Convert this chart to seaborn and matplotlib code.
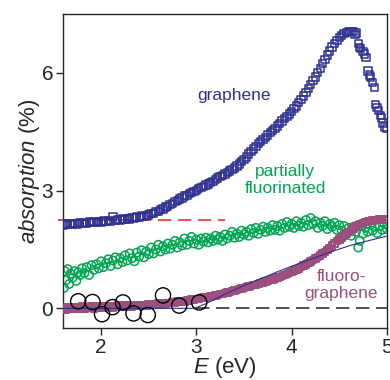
import numpy as np
import pandas as pd
import matplotlib
matplotlib.use("Agg")
import matplotlib.pyplot as plt
import seaborn as sns

# graphene (open squares), (E, absorption %)
graphene = [(1.600, 2.12), (1.625, 2.15), (1.650, 2.13), (1.675, 2.16), (1.700, 2.14), (1.725, 2.17),
            (1.750, 2.15), (1.775, 2.18), (1.800, 2.16), (1.825, 2.19), (1.850, 2.17), (1.875, 2.20),
            (1.900, 2.18), (1.925, 2.21), (1.950, 2.19), (1.975, 2.22), (2.000, 2.20), (2.025, 2.23),
            (2.050, 2.21), (2.075, 2.24), (2.100, 2.22), (2.125, 2.34), (2.150, 2.24), (2.175, 2.26),
            (2.200, 2.25), (2.225, 2.28), (2.250, 2.26), (2.275, 2.29), (2.300, 2.28), (2.325, 2.31),
            (2.350, 2.30), (2.375, 2.33), (2.400, 2.32), (2.425, 2.35), (2.450, 2.34), (2.475, 2.37),
            (2.500, 2.38), (2.525, 2.41), (2.550, 2.42), (2.575, 2.46), (2.600, 2.47), (2.625, 2.52),
            (2.650, 2.53), (2.675, 2.58), (2.700, 2.60), (2.725, 2.64), (2.750, 2.67), (2.775, 2.72),
            (2.800, 2.74), (2.825, 2.79), (2.850, 2.81), (2.875, 2.86), (2.900, 2.88), (2.925, 2.92),
            (2.950, 2.95), (2.975, 2.98), (3.000, 3.01), (3.025, 3.05), (3.050, 3.08), (3.075, 3.11),
            (3.100, 3.14), (3.125, 3.17), (3.150, 3.20), (3.175, 3.24), (3.200, 3.28), (3.225, 3.32),
            (3.250, 3.36), (3.275, 3.39), (3.300, 3.42), (3.325, 3.46), (3.350, 3.50), (3.375, 3.54),
            (3.400, 3.58), (3.425, 3.63), (3.450, 3.68), (3.475, 3.74), (3.500, 3.80), (3.525, 3.86),
            (3.550, 3.93), (3.575, 3.99), (3.600, 4.06), (3.625, 4.13), (3.650, 4.20), (3.675, 4.25),
            (3.700, 4.31), (3.725, 4.36), (3.750, 4.42), (3.775, 4.48), (3.800, 4.54), (3.825, 4.59),
            (3.850, 4.65), (3.875, 4.71), (3.900, 4.77), (3.925, 4.83), (3.950, 4.89), (3.975, 4.95),
            (4.000, 5.02), (4.025, 5.09), (4.050, 5.16), (4.075, 5.24), (4.100, 5.32), (4.125, 5.41),
            (4.150, 5.50), (4.175, 5.60), (4.200, 5.70), (4.225, 5.80), (4.250, 5.90), (4.275, 6.01),
            (4.300, 6.12), (4.325, 6.24), (4.350, 6.35), (4.375, 6.46), (4.400, 6.56), (4.425, 6.66),
            (4.450, 6.75), (4.475, 6.83), (4.500, 6.90), (4.525, 6.95), (4.550, 7.00), (4.575, 7.03),
            (4.600, 7.05), (4.625, 7.06), (4.650, 7.05), (4.665, 6.98), (4.680, 7.02), (4.700, 6.75),
            (4.710, 6.64), (4.725, 6.62), (4.750, 6.55), (4.765, 6.48), (4.780, 6.40), (4.800, 6.05),
            (4.815, 5.95), (4.830, 5.90), (4.850, 5.75), (4.870, 5.62), (4.880, 5.20), (4.895, 5.12),
            (4.910, 5.05), (4.930, 4.92), (4.945, 4.85), (4.960, 4.72), (4.975, 4.62), (5.000, 4.58)]

# partially fluorinated (open circles)
partial = [(1.610, 0.52), (1.620, 0.95), (1.635, 0.72), (1.650, 1.00), (1.665, 0.62), (1.680, 0.88),
           (1.700, 0.78), (1.720, 0.95), (1.740, 0.70), (1.760, 0.92), (1.780, 0.85), (1.800, 1.02),
           (1.825, 0.90), (1.850, 1.05), (1.875, 0.85), (1.900, 1.10), (1.925, 0.98), (1.950, 1.12),
           (1.975, 1.02), (2.000, 1.20), (2.025, 1.05), (2.050, 1.15), (2.075, 1.25), (2.100, 1.08),
           (2.125, 1.22), (2.150, 1.30), (2.175, 1.12), (2.200, 1.28), (2.225, 1.18), (2.250, 1.35),
           (2.275, 1.22), (2.300, 1.40), (2.325, 1.28), (2.350, 1.20), (2.375, 1.42), (2.400, 1.32),
           (2.425, 1.48), (2.450, 1.30), (2.475, 1.45), (2.500, 1.38), (2.525, 1.55), (2.550, 1.40),
           (2.575, 1.50), (2.600, 1.62), (2.625, 1.45), (2.650, 1.58), (2.675, 1.50), (2.700, 1.65),
           (2.725, 1.52), (2.750, 1.62), (2.775, 1.72), (2.800, 1.55), (2.825, 1.68), (2.850, 1.60),
           (2.875, 1.78), (2.900, 1.62), (2.925, 1.72), (2.950, 1.82), (2.975, 1.65), (3.000, 1.75),
           (3.025, 1.62), (3.050, 1.78), (3.075, 1.70), (3.100, 1.80), (3.125, 1.68), (3.150, 1.78),
           (3.175, 1.72), (3.200, 1.85), (3.225, 1.75), (3.250, 1.82), (3.275, 1.72), (3.300, 1.88),
           (3.325, 1.78), (3.350, 1.85), (3.375, 1.95), (3.400, 1.80), (3.425, 1.90), (3.450, 1.82),
           (3.475, 1.98), (3.500, 1.88), (3.525, 1.95), (3.550, 1.85), (3.575, 2.02), (3.600, 1.92),
           (3.625, 2.05), (3.650, 1.90), (3.675, 2.00), (3.700, 2.08), (3.725, 1.95), (3.750, 2.05),
           (3.775, 1.98), (3.800, 2.12), (3.825, 2.00), (3.850, 2.10), (3.875, 1.98), (3.900, 2.15),
           (3.925, 2.05), (3.950, 2.20), (3.975, 2.08), (4.000, 2.15), (4.025, 2.05), (4.050, 2.22),
           (4.075, 2.10), (4.100, 2.18), (4.125, 2.08), (4.150, 2.25), (4.175, 2.12), (4.200, 2.30),
           (4.225, 2.15), (4.250, 2.22), (4.275, 2.05), (4.300, 2.18), (4.325, 2.10), (4.350, 2.22),
           (4.375, 2.02), (4.400, 2.15), (4.425, 2.08), (4.450, 2.18), (4.475, 2.00), (4.500, 2.12),
           (4.525, 1.98), (4.550, 2.10), (4.575, 1.92), (4.600, 2.05), (4.625, 1.85), (4.650, 2.08),
           (4.675, 1.95), (4.700, 1.55), (4.715, 1.72), (4.730, 2.10), (4.750, 1.90), (4.775, 2.05),
           (4.800, 1.95), (4.825, 2.12), (4.850, 1.98), (4.875, 2.08), (4.900, 1.92), (4.925, 2.10),
           (4.950, 2.00), (4.975, 2.15), (5.000, 2.02)]

# fluorographene (squares)
fluoro = [(1.600, 0.00), (1.625, -0.03), (1.650, 0.02), (1.675, -0.01), (1.700, 0.03), (1.725, -0.02),
          (1.750, 0.02), (1.775, 0.00), (1.800, 0.04), (1.825, -0.01), (1.850, 0.03), (1.875, 0.01),
          (1.900, 0.04), (1.925, 0.00), (1.950, 0.05), (1.975, 0.02), (2.000, 0.04), (2.025, 0.01),
          (2.050, 0.05), (2.075, 0.03), (2.100, 0.06), (2.125, 0.02), (2.150, 0.06), (2.175, 0.04),
          (2.200, 0.07), (2.225, 0.03), (2.250, 0.07), (2.275, 0.05), (2.300, 0.08), (2.325, 0.04),
          (2.350, 0.08), (2.375, 0.06), (2.400, 0.09), (2.425, 0.06), (2.450, 0.09), (2.475, 0.07),
          (2.500, 0.10), (2.525, 0.08), (2.550, 0.11), (2.575, 0.09), (2.600, 0.12), (2.625, 0.10),
          (2.650, 0.13), (2.675, 0.12), (2.700, 0.14), (2.725, 0.13), (2.750, 0.15), (2.775, 0.15),
          (2.800, 0.17), (2.825, 0.16), (2.850, 0.18), (2.875, 0.18), (2.900, 0.20), (2.925, 0.20),
          (2.950, 0.22), (2.975, 0.22), (3.000, 0.24), (3.025, 0.24), (3.050, 0.26), (3.075, 0.27),
          (3.100, 0.28), (3.125, 0.29), (3.150, 0.30), (3.175, 0.32), (3.200, 0.33), (3.225, 0.34),
          (3.250, 0.36), (3.275, 0.37), (3.300, 0.39), (3.325, 0.40), (3.350, 0.42), (3.375, 0.44),
          (3.400, 0.45), (3.425, 0.47), (3.450, 0.49), (3.475, 0.50), (3.500, 0.52), (3.525, 0.54),
          (3.550, 0.55), (3.575, 0.57), (3.600, 0.59), (3.625, 0.60), (3.650, 0.62), (3.675, 0.64),
          (3.700, 0.66), (3.725, 0.68), (3.750, 0.70), (3.775, 0.72), (3.800, 0.74), (3.825, 0.76),
          (3.850, 0.78), (3.875, 0.80), (3.900, 0.83), (3.925, 0.85), (3.950, 0.88), (3.975, 0.90),
          (4.000, 0.93), (4.025, 0.96), (4.050, 0.99), (4.075, 1.02), (4.100, 1.05), (4.125, 1.09),
          (4.150, 1.12), (4.175, 1.16), (4.200, 1.19), (4.225, 1.23), (4.250, 1.27), (4.275, 1.31),
          (4.300, 1.35), (4.325, 1.40), (4.350, 1.44), (4.375, 1.49), (4.400, 1.54), (4.425, 1.60),
          (4.450, 1.65), (4.475, 1.71), (4.500, 1.76), (4.525, 1.81), (4.550, 1.86), (4.575, 1.91),
          (4.600, 1.95), (4.625, 2.00), (4.650, 2.04), (4.675, 2.08), (4.700, 2.12), (4.725, 2.15),
          (4.750, 2.18), (4.775, 2.20), (4.800, 2.22), (4.825, 2.23), (4.850, 2.24), (4.875, 2.25),
          (4.900, 2.25), (4.925, 2.26), (4.950, 2.25), (4.975, 2.26), (5.000, 2.25)]

# calculated fluorographene absorption (thin line)
th_E = [1.60, 2.95, 3.00, 3.10, 3.20, 3.30, 3.40, 3.50, 3.60, 3.70, 3.80, 3.90, 4.00,
        4.10, 4.20, 4.30, 4.40, 4.50, 4.60, 4.70, 4.80, 4.90, 5.00]
th_A = [0.00, 0.00, 0.02, 0.12, 0.24, 0.36, 0.47, 0.58, 0.68, 0.78, 0.88, 0.98, 1.07,
        1.16, 1.25, 1.34, 1.43, 1.51, 1.59, 1.66, 1.72, 1.78, 1.84]

# big open black circles
bc_E = [1.76, 1.91, 2.01, 2.12, 2.23, 2.34, 2.49, 2.65, 2.82, 3.03]
bc_A = [0.18, 0.16, -0.15, 0.03, 0.15, -0.13, -0.17, 0.33, 0.07, 0.15]

# reference lines
pia_E = [1.55, 3.30]
pia_A = [2.25, 2.25]
zero_E = [3.00, 5.00]
zero_A = [0.0, 0.0]

gr = pd.DataFrame(graphene, columns=["E", "A"])
pf = pd.DataFrame(partial, columns=["E", "A"])
fg = pd.DataFrame(fluoro, columns=["E", "A"])

blue = "#2e3192"
green = "#00a651"
purple = "#9b4f7e"
red = "#ff2a2a"

sns.set_style("ticks")
plt.rcParams["font.family"] = ["Liberation Sans", "DejaVu Sans"]
plt.rcParams["mathtext.fontset"] = "custom"
plt.rcParams["mathtext.it"] = "Liberation Sans:italic"
plt.rcParams["mathtext.rm"] = "Liberation Sans"

fig, ax = plt.subplots(figsize=(3.9, 3.8), dpi=100)
fig.subplots_adjust(left=0.1615, right=0.992, bottom=0.137, top=0.963)

sns.lineplot(x=pia_E, y=pia_A, ax=ax, color=red, lw=1.2,
             linestyle=(0, (8, 4)), clip_on=False, zorder=1)
sns.lineplot(x=zero_E, y=zero_A, ax=ax, color="#333333", lw=1.2,
             linestyle=(0, (8, 4)), zorder=1)

sns.scatterplot(data=pf, x="E", y="A", ax=ax, marker="o", s=36, facecolor="none",
                edgecolor=green, linewidth=1.1, zorder=2)
sns.scatterplot(data=gr, x="E", y="A", ax=ax, marker="s", s=28, facecolor="none",
                edgecolor=blue, linewidth=1.1, zorder=3)
sns.scatterplot(data=fg, x="E", y="A", ax=ax, marker="s", s=22, facecolor="none",
                edgecolor=purple, linewidth=1.4, zorder=3)
sns.lineplot(x=th_E, y=th_A, ax=ax, color=blue, lw=0.8, sort=False,
             estimator=None, zorder=4)
sns.scatterplot(x=bc_E, y=bc_A, ax=ax, marker="o", s=120, facecolor="none",
                edgecolor="black", linewidth=1.0, zorder=5)

ax.text(3.39, 5.42, "graphene", color=blue, fontsize=12.5, ha="center", va="center")
ax.text(3.93, 3.28, "partially\nfluorinated", color=green, fontsize=12.5,
        ha="center", va="center", linespacing=1.15)
ax.text(4.52, 0.6, "fluoro-\ngraphene", color=purple, fontsize=12.5,
        ha="center", va="center", linespacing=1.2)

ax.set_xlim(1.6, 5.0)
ax.set_ylim(-0.5, 7.5)
ax.set_xticks([2, 3, 4, 5])
ax.set_yticks([0, 3, 6])
ax.tick_params(direction="out", length=5, width=1, labelsize=15, pad=2)
for sp in ax.spines.values():
    sp.set_linewidth(1.0)
ax.set_xlabel(r"$\mathit{E}$ (eV)", fontsize=16, labelpad=-1)
ax.set_ylabel(r"$\mathit{absorption}$ (%)", fontsize=16, labelpad=0)

fig.savefig("out.png", dpi=100)
